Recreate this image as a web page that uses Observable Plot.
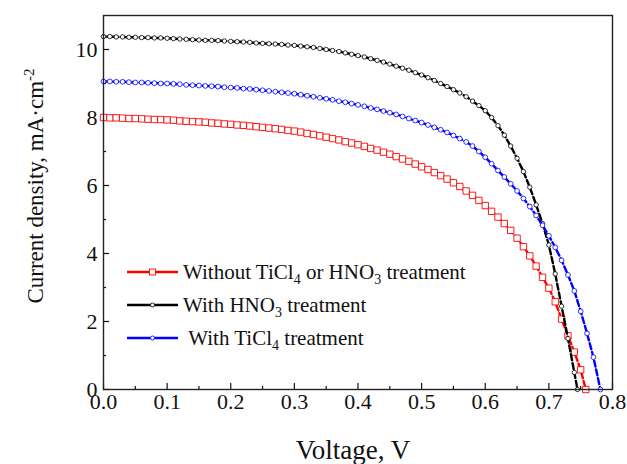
<!DOCTYPE html>
<html><head><meta charset="utf-8">
<script src="https://cdn.jsdelivr.net/npm/d3@7"></script>
<script src="https://cdn.jsdelivr.net/npm/@observablehq/plot@0.6"></script>
<style>
body{margin:0;background:#fff;}
#wrap{position:relative;width:627px;height:464px;font-family:"Liberation Serif","DejaVu Serif",serif;color:#111;}
#wrap svg, #wrap svg text{font-family:"Liberation Serif","DejaVu Serif",serif !important;}
#ylab{position:absolute;left:36px;top:186px;transform:translate(-50%,-50%) rotate(-90deg);white-space:nowrap;font-size:23px;}
#ylab sup{font-size:15px;vertical-align:9px;line-height:0;}
#xlab{position:absolute;left:353px;top:450px;transform:translate(-50%,-50%);font-size:27px;white-space:nowrap;}
.leg{position:absolute;left:127px;height:26px;display:flex;align-items:center;font-size:21px;white-space:nowrap;}
.leg svg{margin-right:5px;}
.leg sub{font-size:14px;vertical-align:-5px;line-height:0;}
</style></head>
<body><div id="wrap"></div>
<script>
// Voltage (V) and current density (mA·cm^-2)
const vRed = [0,0.01,0.02,0.03,0.04,0.05,0.06,0.07,0.08,0.09,0.10,0.11,0.12,0.13,0.14,0.15,0.16,0.17,0.18,0.19,0.20,0.21,0.22,0.23,0.24,0.25,0.26,0.27,0.28,0.29,0.30,0.31,0.32,0.33,0.34,0.35,0.36,0.37,0.38,0.39,0.40,0.41,0.42,0.43,0.44,0.45,0.46,0.47,0.48,0.49,0.50,0.51,0.52,0.53,0.54,0.55,0.56,0.57,0.58,0.59,0.60,0.61,0.62,0.63,0.64,0.65,0.66,0.67,0.68,0.69,0.70,0.71,0.72,0.73,0.74,0.75,0.758];
const jRed = [8.00,7.99,7.99,7.98,7.97,7.97,7.96,7.95,7.94,7.94,7.93,7.92,7.90,7.89,7.88,7.87,7.86,7.84,7.83,7.81,7.80,7.78,7.77,7.75,7.73,7.71,7.69,7.67,7.65,7.62,7.60,7.57,7.53,7.50,7.46,7.42,7.38,7.34,7.29,7.25,7.20,7.15,7.09,7.04,6.98,6.92,6.85,6.78,6.71,6.63,6.55,6.47,6.38,6.29,6.19,6.08,5.97,5.84,5.71,5.56,5.41,5.24,5.07,4.88,4.68,4.45,4.20,3.93,3.63,3.30,2.98,2.58,2.07,1.58,1.10,0.58,0.00];

const vBlack = [0,0.01,0.02,0.03,0.04,0.05,0.06,0.07,0.08,0.09,0.10,0.11,0.12,0.13,0.14,0.15,0.16,0.17,0.18,0.19,0.20,0.21,0.22,0.23,0.24,0.25,0.26,0.27,0.28,0.29,0.30,0.31,0.32,0.33,0.34,0.35,0.36,0.37,0.38,0.39,0.40,0.41,0.42,0.43,0.44,0.45,0.46,0.47,0.48,0.49,0.50,0.51,0.52,0.53,0.54,0.55,0.56,0.57,0.58,0.59,0.60,0.61,0.62,0.63,0.64,0.65,0.66,0.67,0.68,0.69,0.70,0.71,0.72,0.73,0.74,0.745];
const jBlack = [10.38,10.38,10.37,10.37,10.36,10.36,10.35,10.35,10.34,10.34,10.33,10.32,10.31,10.30,10.29,10.28,10.27,10.27,10.26,10.25,10.24,10.23,10.22,10.21,10.19,10.18,10.17,10.16,10.15,10.13,10.12,10.10,10.08,10.06,10.03,10.00,9.97,9.94,9.90,9.86,9.82,9.78,9.73,9.68,9.63,9.57,9.51,9.45,9.39,9.32,9.25,9.17,9.09,9.00,8.91,8.82,8.72,8.61,8.48,8.35,8.20,8.00,7.76,7.48,7.16,6.80,6.41,5.95,5.43,4.88,4.25,3.40,2.45,1.50,0.50,0.00];

const vBlue = [0,0.01,0.02,0.03,0.04,0.05,0.06,0.07,0.08,0.09,0.10,0.11,0.12,0.13,0.14,0.15,0.16,0.17,0.18,0.19,0.20,0.21,0.22,0.23,0.24,0.25,0.26,0.27,0.28,0.29,0.30,0.31,0.32,0.33,0.34,0.35,0.36,0.37,0.38,0.39,0.40,0.41,0.42,0.43,0.44,0.45,0.46,0.47,0.48,0.49,0.50,0.51,0.52,0.53,0.54,0.55,0.56,0.57,0.58,0.59,0.60,0.61,0.62,0.63,0.64,0.65,0.66,0.67,0.68,0.69,0.70,0.71,0.72,0.73,0.74,0.75,0.76,0.77,0.781];
const jBlue = [9.06,9.06,9.05,9.05,9.04,9.03,9.03,9.02,9.01,9.00,9.00,8.99,8.98,8.96,8.95,8.94,8.93,8.92,8.91,8.89,8.88,8.87,8.85,8.84,8.82,8.80,8.78,8.76,8.74,8.72,8.70,8.67,8.64,8.61,8.58,8.55,8.52,8.48,8.45,8.41,8.37,8.33,8.28,8.24,8.19,8.14,8.09,8.03,7.97,7.91,7.85,7.78,7.71,7.64,7.56,7.47,7.38,7.28,7.16,7.00,6.83,6.64,6.44,6.25,6.05,5.84,5.62,5.38,5.12,4.83,4.52,4.18,3.80,3.37,2.90,2.30,1.65,0.95,0.00];

const seriesNames = ["Without TiCl4 or HNO3 treatment","With HNO3 treatment","With TiCl4 treatment"];
const xTicks = [0,0.1,0.2,0.3,0.4,0.5,0.6,0.7,0.8];
const xMinor = [0.05,0.15,0.25,0.35,0.45,0.55,0.65,0.75];
const yTicks = [0,2,4,6,8,10];
const yMinor = [1,3,5,7,9];

const toRows = (v, j) => v.map((x, i) => ({v: x, j: j[i]}));
const red = toRows(vRed, jRed), black = toRows(vBlack, jBlack), blue = toRows(vBlue, jBlue);

const lineOpts = (c) => ({x: "v", y: "j", stroke: c, strokeWidth: 2.4, strokeDasharray: "6,3"});
const chart = Plot.plot({
  width: 627, height: 464,
  marginLeft: 103, marginRight: 15, marginTop: 15, marginBottom: 75,
  x: {domain: [0, 0.8]},
  y: {domain: [0, 11]},
  style: {fontFamily: "Liberation Serif, serif", fontSize: "22px", color: "#111", background: "transparent"},
  marks: [
    Plot.axisX(xMinor, {tickSize: -3, tickFormat: () => "", label: null, strokeWidth: 1.2}),
    Plot.axisX(xTicks, {tickSize: -6, tickFormat: () => "", label: null, strokeWidth: 1.2}),
    Plot.axisX(xTicks, {tickSize: 0, tickPadding: 4, tickFormat: d => d.toFixed(1), label: null, fontSize: 22}),
    Plot.axisY(yMinor, {tickSize: -3, tickFormat: () => "", label: null, strokeWidth: 1.2}),
    Plot.axisY(yTicks, {tickSize: -6, tickFormat: () => "", label: null, strokeWidth: 1.2}),
    Plot.axisY(yTicks, {tickSize: 0, tickPadding: 6, label: null, fontSize: 22}),
    Plot.line(red, lineOpts("#ff0000")),
    Plot.dot(red, {x: "v", y: "j", symbol: "square", r: 3.6, stroke: "#ff0000", fill: "white", strokeWidth: 0.9}),
    Plot.line(black, lineOpts("#000000")),
    Plot.dot(black, {x: "v", y: "j", symbol: "circle", r: 2.2, stroke: "#000000", fill: "white", strokeWidth: 0.8}),
    Plot.line(blue, lineOpts("#0000ff")),
    Plot.dot(blue, {x: "v", y: "j", symbol: "circle", r: 2.4, stroke: "#0000ff", fill: "white", strokeWidth: 0.8}),
    Plot.frame({stroke: "#222", strokeWidth: 1.4})
  ]
});
const wrap = document.getElementById("wrap");
wrap.appendChild(chart);

const ylab = document.createElement("div");
ylab.id = "ylab";
ylab.innerHTML = "Current density, mA·cm<sup>-2</sup>";
wrap.appendChild(ylab);
const xlab = document.createElement("div");
xlab.id = "xlab";
xlab.textContent = "Voltage, V";
wrap.appendChild(xlab);

const legColors = ["#ff0000", "#000000", "#0000ff"];
const legY = [272, 305, 338];
const legHtml = [
  "Without TiCl<sub>4</sub> or HNO<sub>3</sub> treatment",
  "With HNO<sub>3</sub> treatment",
  "&nbsp;With TiCl<sub>4</sub> treatment"
];
seriesNames.forEach((name, i) => {
  const d = document.createElement("div");
  d.className = "leg";
  d.style.top = (legY[i] - 13) + "px";
  d.title = name;
  const c = legColors[i];
  const marker = i === 0
    ? `<rect x="22.5" y="3" width="6" height="6" fill="white" stroke="${c}" stroke-width="0.9"/>`
    : `<circle cx="25.5" cy="6" r="2" fill="white" stroke="${c}" stroke-width="0.8"/>`;
  d.innerHTML = `<svg width="51" height="12"><line x1="0" y1="6" x2="51" y2="6" stroke="${c}" stroke-width="2.4"/>${marker}</svg><span>${legHtml[i]}</span>`;
  wrap.appendChild(d);
});
</script>
</body></html>
